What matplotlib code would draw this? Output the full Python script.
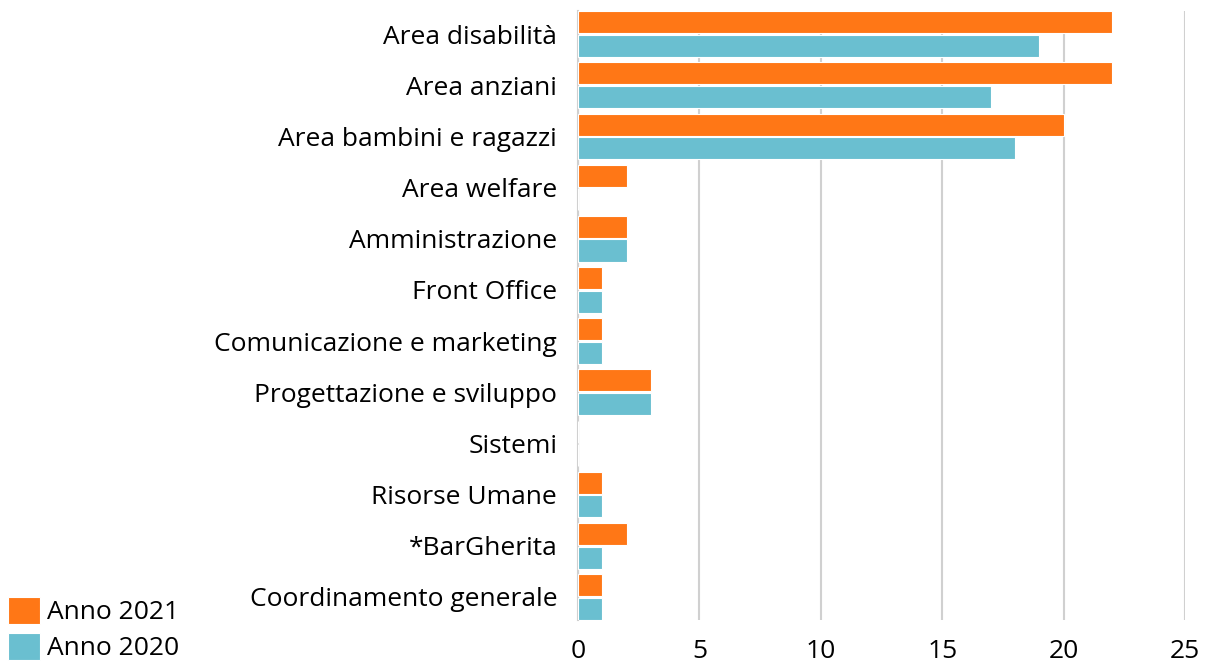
import numpy as np
import matplotlib.pyplot as plt

plt.rcParams['font.family'] = ['Open Sans', 'DejaVu Sans']

categorie = ["Area disabilità", "Area anziani", "Area bambini e ragazzi",
             "Area welfare", "Amministrazione", "Front Office",
             "Comunicazione e marketing", "Progettazione e sviluppo",
             "Sistemi", "Risorse Umane", "*BarGherita", "Coordinamento generale"]
anno_2021 = [22, 22, 20, 2, 2, 1, 1, 3, 0, 1, 2, 1]
anno_2020 = [19, 17, 18, 0, 2, 1, 1, 3, 0, 1, 1, 1]
ticks = [0, 5, 10, 15, 20, 25]

arancio = "#FF7716"
azzurro = "#6ABFD0"
fs = 19

fig = plt.figure(figsize=(12.05, 6.63), dpi=100)
ax = fig.add_axes([0.4797, 0.0649, 0.5037, 0.9185])

y = np.arange(len(categorie))
h = 0.43
ax.barh(y - h/2 - 0.015, anno_2021, height=h, color=arancio,
        edgecolor="white", linewidth=0.8, label="Anno 2021", zorder=3)
ax.barh(y + h/2 + 0.015, anno_2020, height=h, color=azzurro,
        edgecolor="white", linewidth=0.8, label="Anno 2020", zorder=3)

ax.set_ylim(len(categorie) - 0.55, -0.45)
ax.set_xlim(0, 25)
ax.set_yticks(y)
ax.set_yticklabels(categorie, fontsize=fs)
ax.set_xticks(ticks)
ax.set_xticklabels([str(t) for t in ticks], fontsize=fs)
ax.tick_params(axis="y", length=0, pad=15)
ax.tick_params(axis="x", length=0, pad=14)

ax.grid(axis="x", color="#d0d0d0", linewidth=1.5, zorder=0)
for s in ["top", "right", "bottom"]:
    ax.spines[s].set_visible(False)
ax.spines["left"].set_color("#d0d0d0")
ax.spines["left"].set_linewidth(1.5)

fig.legend(loc="upper left", bbox_to_anchor=(0.007, 0.1), frameon=False,
           fontsize=fs, handlelength=1.2, handleheight=1.2,
           handletextpad=0.25, labelspacing=0.3, borderaxespad=0,
           borderpad=0)

fig.savefig("out.png", dpi=100)
